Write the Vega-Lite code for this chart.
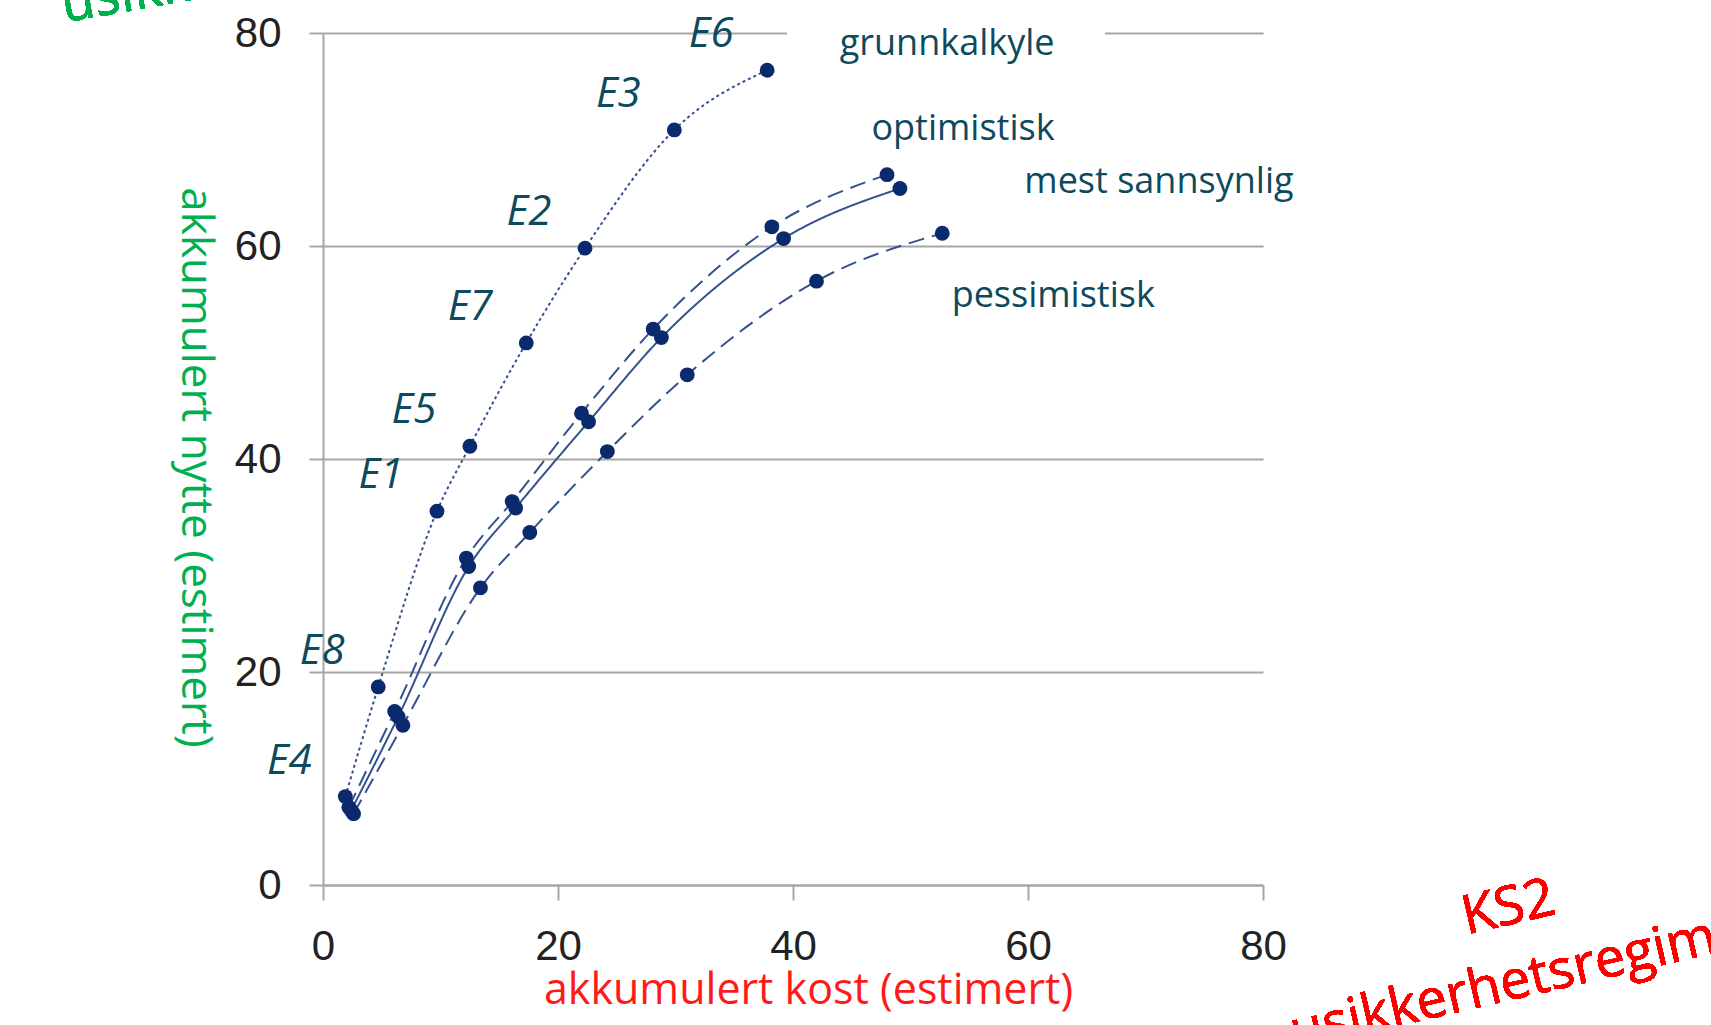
{
  "$schema": "https://vega.github.io/schema/vega-lite/v6.json",
  "autosize": {"type": "none"},
  "width": 940,
  "height": 852,
  "padding": {"left": 323, "top": 33, "right": 448, "bottom": 140},
  "background": "white",
  "config": {
    "view": {"stroke": null},
    "font": "Open Sans",
    "axis": {"labelFont": "Liberation Sans", "titleFont": "Open Sans", "titleFontWeight": "normal"}
  },
  "data": {
    "values": [
      {"serie": "grunnkalkyle", "etappe": "E4", "kost": 1.9, "nytte": 8.3},
      {"serie": "grunnkalkyle", "etappe": "E8", "kost": 4.7, "nytte": 18.6},
      {"serie": "grunnkalkyle", "etappe": "E1", "kost": 9.7, "nytte": 35.1},
      {"serie": "grunnkalkyle", "etappe": "E5", "kost": 12.5, "nytte": 41.2},
      {"serie": "grunnkalkyle", "etappe": "E7", "kost": 17.3, "nytte": 50.9},
      {"serie": "grunnkalkyle", "etappe": "E2", "kost": 22.3, "nytte": 59.8},
      {"serie": "grunnkalkyle", "etappe": "E3", "kost": 29.9, "nytte": 70.9},
      {"serie": "grunnkalkyle", "etappe": "E6", "kost": 37.8, "nytte": 76.5},
      {"serie": "optimistisk", "etappe": "E4", "kost": 2.2, "nytte": 7.3},
      {"serie": "optimistisk", "etappe": "E8", "kost": 6.1, "nytte": 16.3},
      {"serie": "optimistisk", "etappe": "E1", "kost": 12.2, "nytte": 30.7},
      {"serie": "optimistisk", "etappe": "E5", "kost": 16.1, "nytte": 36.0},
      {"serie": "optimistisk", "etappe": "E7", "kost": 22.0, "nytte": 44.3},
      {"serie": "optimistisk", "etappe": "E2", "kost": 28.1, "nytte": 52.2},
      {"serie": "optimistisk", "etappe": "E3", "kost": 38.2, "nytte": 61.8},
      {"serie": "optimistisk", "etappe": "E6", "kost": 48.0, "nytte": 66.7},
      {"serie": "mest sannsynlig", "etappe": "E4", "kost": 2.4, "nytte": 7.0},
      {"serie": "mest sannsynlig", "etappe": "E8", "kost": 6.4, "nytte": 15.8},
      {"serie": "mest sannsynlig", "etappe": "E1", "kost": 12.4, "nytte": 29.9},
      {"serie": "mest sannsynlig", "etappe": "E5", "kost": 16.4, "nytte": 35.4},
      {"serie": "mest sannsynlig", "etappe": "E7", "kost": 22.6, "nytte": 43.5},
      {"serie": "mest sannsynlig", "etappe": "E2", "kost": 28.8, "nytte": 51.4},
      {"serie": "mest sannsynlig", "etappe": "E3", "kost": 39.2, "nytte": 60.7},
      {"serie": "mest sannsynlig", "etappe": "E6", "kost": 49.1, "nytte": 65.4},
      {"serie": "pessimistisk", "etappe": "E4", "kost": 2.6, "nytte": 6.7},
      {"serie": "pessimistisk", "etappe": "E8", "kost": 6.8, "nytte": 15.0},
      {"serie": "pessimistisk", "etappe": "E1", "kost": 13.4, "nytte": 27.9},
      {"serie": "pessimistisk", "etappe": "E5", "kost": 17.6, "nytte": 33.1},
      {"serie": "pessimistisk", "etappe": "E7", "kost": 24.2, "nytte": 40.7},
      {"serie": "pessimistisk", "etappe": "E2", "kost": 31.0, "nytte": 47.9},
      {"serie": "pessimistisk", "etappe": "E3", "kost": 42.0, "nytte": 56.7},
      {"serie": "pessimistisk", "etappe": "E6", "kost": 52.7, "nytte": 61.2}
    ]
  },
  "encoding": {
    "x": {
      "field": "kost", "type": "quantitative",
      "scale": {"domain": [0, 80], "nice": false},
      "axis": {
        "values": [0, 20, 40, 60, 80], "grid": false, "labelFlush": false, "labelOverlap": false,
        "domainColor": "#a6a6a6", "domainWidth": 2,
        "tickColor": "#a6a6a6", "tickWidth": 2, "tickSize": 15,
        "labelFontSize": 42, "labelColor": "#222222", "labelPadding": 26,
        "title": "akkumulert kost (estimert)", "titleColor": "#ff1a1a",
        "titleFontSize": 43, "titlePadding": 2, "titleX": 485
      }
    },
    "y": {
      "field": "nytte", "type": "quantitative",
      "scale": {"domain": [0, 80], "nice": false},
      "axis": {
        "values": [0, 20, 40, 60, 80], "grid": true, "labelFlush": false, "labelOverlap": false,
        "gridColor": "#a6a6a6", "gridWidth": 2,
        "domainColor": "#a6a6a6", "domainWidth": 2,
        "tickColor": "#a6a6a6", "tickWidth": 2, "tickSize": 14,
        "labelFontSize": 42, "labelColor": "#222222", "labelPadding": 28,
        "title": "akkumulert nytte (estimert)", "titleColor": "#00b050",
        "titleFontSize": 44, "titleAngle": 90, "titleBaseline": "top", "titlePadding": 18, "titleY": 434
      }
    }
  },
  "layer": [
    {
      "mark": {"type": "rule", "color": "white", "strokeWidth": 5},
      "encoding": {
        "x": {"datum": 39.5},
        "x2": {"datum": 66.5},
        "y": {"datum": 80}
      }
    },
    {
      "mark": {"type": "line", "interpolate": "monotone", "color": "#34528f", "strokeWidth": 2},
      "encoding": {
        "detail": {"field": "serie"},
        "strokeDash": {
          "field": "serie", "type": "nominal",
          "scale": {"domain": ["grunnkalkyle", "optimistisk", "mest sannsynlig", "pessimistisk"],
                    "range": [[3, 3], [16, 8], [1, 0], [16, 8]]},
          "legend": null
        }
      }
    },
    {
      "mark": {"type": "point", "shape": "circle", "filled": true, "opacity": 1, "size": 220, "color": "#0b2a6e"}
    },
    {
      "transform": [{"filter": "datum.serie === 'grunnkalkyle'"}],
      "mark": {"type": "text", "fontSize": 42, "fontStyle": "italic", "color": "#0d4a5e", "dx": -56, "dy": -36, "align": "center", "baseline": "middle"},
      "encoding": {"text": {"field": "etappe"}}
    },
    {
      "transform": [{"filter": "datum.serie === 'grunnkalkyle' && datum.etappe === 'E6'"}],
      "mark": {"type": "text", "fontSize": 36, "color": "#0d4a5e", "dx": 180, "dy": -26, "align": "center", "baseline": "middle"},
      "encoding": {"text": {"field": "serie"}}
    },
    {
      "transform": [{"filter": "datum.serie === 'optimistisk' && datum.etappe === 'E6'"}],
      "mark": {"type": "text", "fontSize": 36, "color": "#0d4a5e", "dx": 76, "dy": -46, "align": "center", "baseline": "middle"},
      "encoding": {"text": {"field": "serie"}}
    },
    {
      "transform": [{"filter": "datum.serie === 'mest sannsynlig' && datum.etappe === 'E6'"}],
      "mark": {"type": "text", "fontSize": 36, "color": "#0d4a5e", "dx": 259, "dy": -6, "align": "center", "baseline": "middle"},
      "encoding": {"text": {"field": "serie"}}
    },
    {
      "transform": [{"filter": "datum.serie === 'pessimistisk' && datum.etappe === 'E6'"}],
      "mark": {"type": "text", "fontSize": 36, "color": "#0d4a5e", "dx": 111, "dy": 63, "align": "center", "baseline": "middle"},
      "encoding": {"text": {"field": "serie"}}
    },
    {
      "mark": {"type": "text", "text": "KS2", "fontSize": 54, "color": "#ff0000", "angle": -13, "align": "center", "baseline": "middle"},
      "encoding": {"x": {"datum": 100.9}, "y": {"datum": -2.2}}
    },
    {
      "mark": {"type": "text", "text": "usikkerhetsregime", "fontSize": 54, "color": "#ff0000", "angle": -13, "align": "center", "baseline": "middle"},
      "encoding": {"x": {"datum": 101.7}, "y": {"datum": -9.1}}
    },
    {
      "mark": {"type": "text", "text": "usikkerhetsregime", "fontSize": 54, "color": "#00b050", "angle": -10, "align": "left", "baseline": "alphabetic"},
      "encoding": {"x": {"datum": -22.0}, "y": {"datum": 81.0}}
    }
  ]
}
